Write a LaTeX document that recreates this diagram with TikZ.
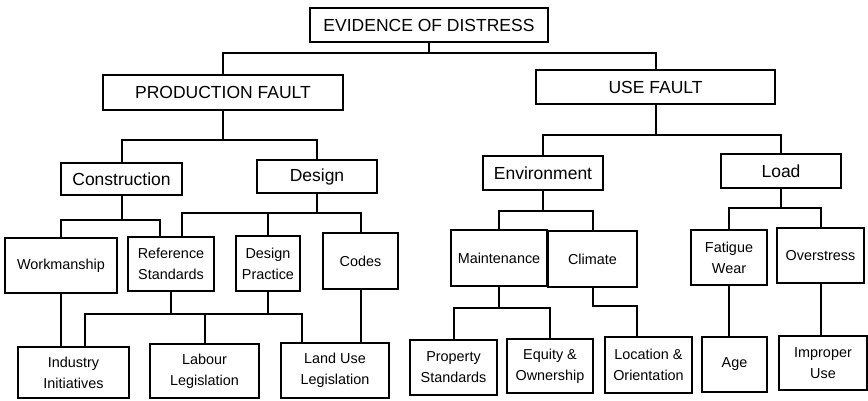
\documentclass[tikz,border=0pt]{standalone}
\usepackage{fontspec}
\setmainfont{Liberation Sans}
\usepackage{tikz}
\usetikzlibrary{calc}
\tikzset{
  box/.style={
    draw=black,
    line width=2.2pt,
    inner sep=0pt,
    align=center
  },
  bigbox/.style={box, font=\fontsize{17.5}{21}\selectfont},
  smallbox/.style={box, font=\fontsize{14.4}{21}\selectfont},
  link/.style={draw=black, line width=2pt}
}
\begin{document}
\begin{tikzpicture}[x=1pt,y=-1pt]
\useasboundingbox (0,0) rectangle (868,401);

% top levels
\node[bigbox, minimum width=238, minimum height=34] (ev) at (429,25) {EVIDENCE OF DISTRESS};
\node[bigbox, minimum width=240, minimum height=35] (prod) at (223,92.5) {PRODUCTION FAULT};
\node[bigbox, minimum width=239, minimum height=34] (use) at (655.5,87) {USE FAULT};

\node[bigbox, minimum width=121, minimum height=32] (constr) at (121.5,179) {Construction};
\node[bigbox, minimum width=120, minimum height=33] (design) at (317,176.5) {Design};
\node[bigbox, minimum width=120, minimum height=34] (env) at (543,173) {Environment};
\node[bigbox, minimum width=120, minimum height=34] (load) at (781,171) {Load};

% third level
\node[smallbox, minimum width=112, minimum height=55] (work) at (61,265.5) {Workmanship};
\node[smallbox, minimum width=86, minimum height=54] (refstd) at (171,264) {Reference\\Standards};
\node[smallbox, minimum width=64, minimum height=55] (dpract) at (268,263.5) {Design\\Practice};
\node[smallbox, minimum width=75, minimum height=56] (codes) at (360.5,261) {Codes};
\node[smallbox, minimum width=96, minimum height=56] (maint) at (499,258) {Maintenance};
\node[smallbox, minimum width=89, minimum height=56] (climate) at (592.5,259) {Climate};
\node[smallbox, minimum width=76, minimum height=55] (fatigue) at (729,257.5) {Fatigue\\Wear};
\node[smallbox, minimum width=87, minimum height=55] (over) at (820.5,255.5) {Overstress};

% bottom level
\node[smallbox, minimum width=111, minimum height=51] (indus) at (73.5,372.5) {Industry\\Initiatives};
\node[smallbox, minimum width=109, minimum height=54] (labour) at (204.5,371) {Labour\\Legislation};
\node[smallbox, minimum width=108, minimum height=55] (landuse) at (335,370.5) {Land Use\\Legislation};
\node[smallbox, minimum width=87, minimum height=55] (prop) at (453.5,367.5) {Property\\Standards};
\node[smallbox, minimum width=86, minimum height=54] (equity) at (550,366) {Equity \&\\Ownership};
\node[smallbox, minimum width=87, minimum height=56] (loc) at (648.5,365) {Location \&\\Orientation};
\node[smallbox, minimum width=65, minimum height=55] (age) at (734.5,364.5) {Age};
\node[smallbox, minimum width=88, minimum height=54] (improper) at (823,363) {Improper\\Use};

% connectors
\draw[link] (prod.north) |- (ev.south |- 0,53) -- (ev.south);
\draw[link] (use.north) |- (ev.south |- 0,53);

\draw[link] (constr.north) |- (prod.south |- 0,140) -- (prod.south);
\draw[link] (design.north) |- (prod.south |- 0,140);
\draw[link] (env.north) |- (use.south |- 0,135) -- (use.south);
\draw[link] (load.north) |- (use.south |- 0,135);

\draw[link] (work.north) |- (constr.south |- 0,220) -- (constr.south);
\draw[link] ([xshift=-11]refstd.north) |- (constr.south |- 0,220);
\draw[link] ([xshift=11]refstd.north) |- (codes.north |- 0,213) -- (codes.north);
\draw[link] (dpract.north) -- (dpract.north |- 0,213);
\draw[link] (design.south) -- (design.south |- 0,213);

\draw[link] (maint.north) |- (climate.north |- 0,211) -- (climate.north);
\draw[link] (env.south) -- (env.south |- 0,211);
\draw[link] (fatigue.north) |- (over.north |- 0,208) -- (over.north);
\draw[link] (load.south) -- (load.south |- 0,208);

\draw[link] (work.south) -- (work.south |- indus.north);
\draw[link] (codes.south) -- (codes.south |- landuse.north);
\draw[link] ([xshift=11.5]indus.north) |- ([xshift=-33]landuse.north |- 0,314) -- ([xshift=-33]landuse.north);
\draw[link] (refstd.south) -- (refstd.south |- 0,314);
\draw[link] (dpract.south) -- (dpract.south |- 0,314);
\draw[link] (labour.north) -- (labour.north |- 0,314);

\draw[link] (prop.north) |- (equity.north |- 0,308) -- (equity.north);
\draw[link] (maint.south) -- (maint.south |- 0,308);
\draw[link] (climate.south) |- ([xshift=-11.5]loc.north |- 0,306) -- ([xshift=-11.5]loc.north);

\draw[link] (fatigue.south) -- (fatigue.south |- age.north);
\draw[link] (over.south) -- (over.south |- improper.north);
\end{tikzpicture}
\end{document}
